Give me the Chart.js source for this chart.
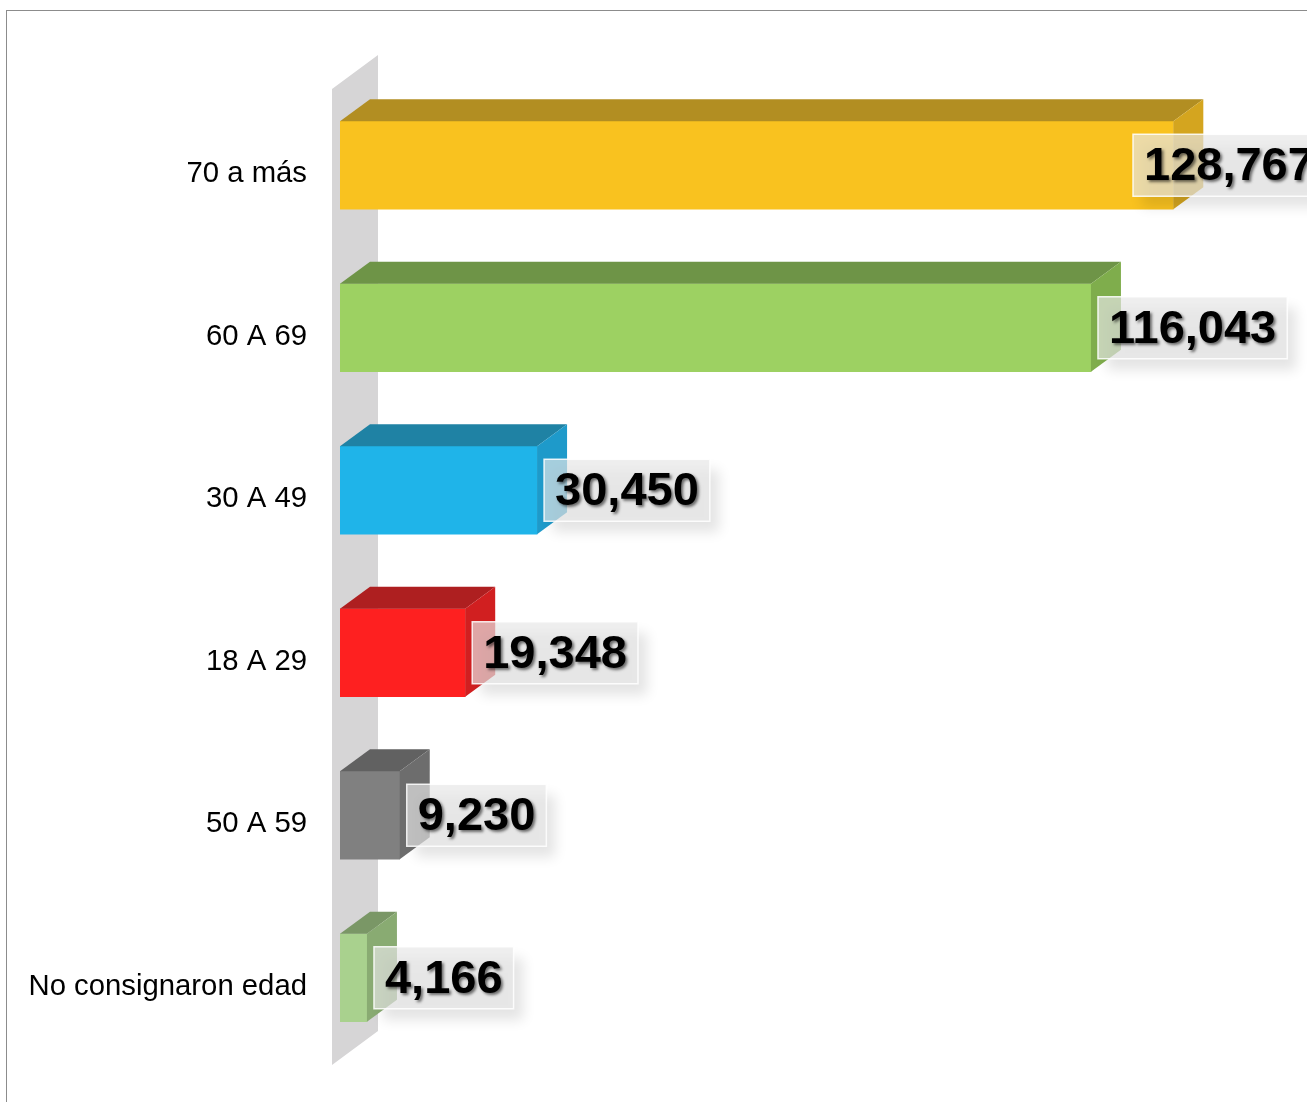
<!DOCTYPE html>
<html>
<head>
<meta charset="utf-8">
<script src="https://cdn.jsdelivr.net/npm/chart.js@4.4.1/dist/chart.umd.min.js"></script>
<style>
  html, body { margin: 0; padding: 0; background: #fff; }
  canvas { display: block; }
</style>
</head>
<body>
<canvas id="grafico" width="1307" height="1102"></canvas>
<script>
// Población por grupo de edad — barras horizontales con efecto 3D

const categorias = ['70 a más', '60 A 69', '30 A 49', '18 A 29', '50 A 59', 'No consignaron edad'];
const valores    = [128767, 116043, 30450, 19348, 9230, 4166];

// colores: cara frontal, cara superior, cara lateral
const coloresFrente  = ['#F9C21F', '#9DD162', '#1FB4E9', '#FE2020', '#808080', '#A9D18E'];
const coloresArriba  = ['#B28E22', '#6E9447', '#1F82A4', '#AE1F20', '#616161', '#7A9766'];
const coloresLado    = ['#D4A51F', '#7FAD4C', '#1E9ACA', '#D11F20', '#6D6D6D', '#89AB72'];

const PROF_X = 30, PROF_Y = -22;   // profundidad de las barras
const MURO_X = 46, MURO_Y = -34;   // profundidad de la pared

const fmt = n => n.toLocaleString('en-US');

const marco = {
  id: 'marco',
  beforeDraw(chart) {
    const ctx = chart.ctx;
    ctx.save();
    ctx.strokeStyle = '#8c8c8c';
    ctx.lineWidth = 1;
    ctx.strokeRect(6.5, 10.5, chart.width + 50, chart.height + 50);
    ctx.restore();
  }
};

const pared = {
  id: 'pared',
  beforeDatasetsDraw(chart) {
    const { ctx, chartArea } = chart;
    const x = chartArea.left - 8, top = chartArea.top + 5, bot = chartArea.bottom + 6;
    ctx.save();
    ctx.fillStyle = '#d6d5d6';
    ctx.beginPath();
    ctx.moveTo(x, top);
    ctx.lineTo(x + MURO_X, top + MURO_Y);
    ctx.lineTo(x + MURO_X, bot + MURO_Y);
    ctx.lineTo(x, bot);
    ctx.closePath();
    ctx.fill();
    ctx.restore();
  }
};

const caras3d = {
  id: 'caras3d',
  afterDatasetsDraw(chart) {
    const ctx = chart.ctx;
    const meta = chart.getDatasetMeta(0);
    ctx.save();
    meta.data.forEach((bar, i) => {
      const x0 = bar.base, x1 = bar.x;
      const y0 = bar.y - bar.height / 2, y1 = bar.y + bar.height / 2;
      // cara superior
      ctx.fillStyle = coloresArriba[i];
      ctx.beginPath();
      ctx.moveTo(x0, y0);
      ctx.lineTo(x0 + PROF_X, y0 + PROF_Y);
      ctx.lineTo(x1 + PROF_X, y0 + PROF_Y);
      ctx.lineTo(x1, y0);
      ctx.closePath();
      ctx.fill();
      // cara lateral
      ctx.fillStyle = coloresLado[i];
      ctx.beginPath();
      ctx.moveTo(x1, y0);
      ctx.lineTo(x1 + PROF_X, y0 + PROF_Y);
      ctx.lineTo(x1 + PROF_X, y1 + PROF_Y);
      ctx.lineTo(x1, y1);
      ctx.closePath();
      ctx.fill();
    });
    ctx.restore();
  }
};

const etiquetas = {
  id: 'etiquetas',
  afterDatasetsDraw(chart) {
    const ctx = chart.ctx;
    const meta = chart.getDatasetMeta(0);
    ctx.save();
    ctx.font = 'bold 47px "Liberation Sans", Arial, sans-serif';
    meta.data.forEach((bar, i) => {
      const txt = fmt(valores[i]);
      const w = ctx.measureText(txt).width + 22;
      const h = 62;
      const bx = Math.min(bar.x + 7, chart.width - 174);
      const by = bar.y - h / 2;
      // caja con sombra
      ctx.save();
      ctx.shadowColor = 'rgba(0,0,0,0.22)';
      ctx.shadowBlur = 12;
      ctx.shadowOffsetX = 9;
      ctx.shadowOffsetY = 11;
      ctx.fillStyle = 'rgba(232,232,232,0.5)';
      ctx.fillRect(bx, by, w, h);
      ctx.restore();
      ctx.fillStyle = 'rgba(232,232,232,0.35)';
      ctx.fillRect(bx, by, w, h);
      ctx.strokeStyle = 'rgba(255,255,255,0.85)';
      ctx.lineWidth = 1.5;
      ctx.strokeRect(bx, by, w, h);
      // texto con sombra
      ctx.save();
      ctx.shadowColor = 'rgba(0,0,0,0.55)';
      ctx.shadowBlur = 3;
      ctx.shadowOffsetX = 2;
      ctx.shadowOffsetY = 2;
      ctx.fillStyle = '#000';
      ctx.textAlign = 'left';
      ctx.textBaseline = 'middle';
      ctx.fillText(txt, bx + 11, bar.y + 2);
      ctx.restore();
    });
    ctx.restore();
  }
};

new Chart(document.getElementById('grafico'), {
  type: 'bar',
  data: {
    labels: categorias,
    datasets: [{
      data: valores,
      backgroundColor: coloresFrente,
      borderWidth: 0,
      barThickness: 88
    }]
  },
  options: {
    indexAxis: 'y',
    responsive: false,
    animation: false,
    layout: { padding: { left: 0, right: 61, top: 84, bottom: 43 } },
    plugins: {
      legend: { display: false },
      tooltip: { enabled: false }
    },
    scales: {
      x: { display: false, min: 0, max: 140000 },
      y: {
        grid: { display: false, drawTicks: false },
        border: { display: false },
        afterFit(scale) {
          scale.width = 340;
          scale.paddingTop = 0;
          scale.paddingBottom = 0;
        },
        ticks: {
          color: '#000',
          padding: 33,
          labelOffset: 9,
          font: { family: '"Liberation Sans", Arial, sans-serif', size: 29.3 }
        }
      }
    }
  },
  plugins: [marco, pared, caras3d, etiquetas]
});
</script>
</body>
</html>
